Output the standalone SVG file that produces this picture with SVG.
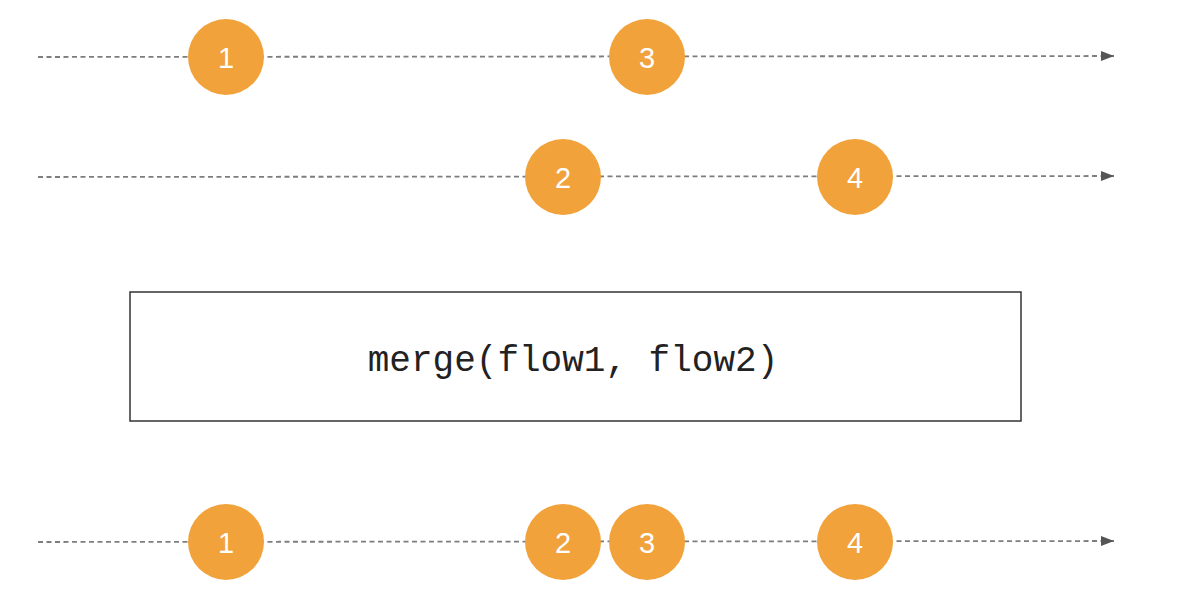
<svg xmlns="http://www.w3.org/2000/svg" width="1194" height="610" viewBox="0 0 1194 610">
<style>
.line{stroke:#7d7d7d;stroke-width:1.8;stroke-dasharray:5,3.5;fill:none}
.c{fill:#f1a23a}
.n{fill:#ffffff;font-family:"Liberation Sans",Arial,sans-serif;font-size:29px;text-anchor:middle;dominant-baseline:central}
.box{fill:#ffffff;stroke:#333333;stroke-width:1.5}
.op{font-family:"Liberation Mono","Courier New",monospace;font-size:36px;fill:#222222;text-anchor:middle}
</style>
<defs>
<marker id="arr" markerWidth="14" markerHeight="10" refX="13" refY="5" orient="auto" markerUnits="userSpaceOnUse">
<path d="M0,0 L13,5 L0,10 Z" fill="#555555"/>
</marker>
</defs>
<rect width="1194" height="610" fill="#ffffff"/>
<g id="connectors">
<line class="line" x1="38" y1="57" x2="1114" y2="56" marker-end="url(#arr)"/>
<line class="line" x1="38" y1="177" x2="1114" y2="176" marker-end="url(#arr)"/>
<line class="line" x1="38" y1="542" x2="1114" y2="541" marker-end="url(#arr)"/>
</g>
<g id="flow1-1"><circle class="c" cx="226" cy="57" r="38"/><text class="n" x="226" y="58">1</text></g>
<g id="flow1-3"><circle class="c" cx="647" cy="57" r="38"/><text class="n" x="647" y="58">3</text></g>
<g id="flow2-2"><circle class="c" cx="563" cy="177" r="38"/><text class="n" x="563" y="178">2</text></g>
<g id="flow2-4"><circle class="c" cx="855" cy="177" r="38"/><text class="n" x="855" y="178">4</text></g>
<g id="merge"><rect class="box" x="130" y="292" width="891" height="129"/><text class="op" x="573" y="371">merge(flow1, flow2)</text></g>
<g id="out-1"><circle class="c" cx="226" cy="542" r="38"/><text class="n" x="226" y="543">1</text></g>
<g id="out-2"><circle class="c" cx="563" cy="542" r="38"/><text class="n" x="563" y="543">2</text></g>
<g id="out-3"><circle class="c" cx="647" cy="542" r="38"/><text class="n" x="647" y="543">3</text></g>
<g id="out-4"><circle class="c" cx="855" cy="542" r="38"/><text class="n" x="855" y="543">4</text></g>
</svg>
